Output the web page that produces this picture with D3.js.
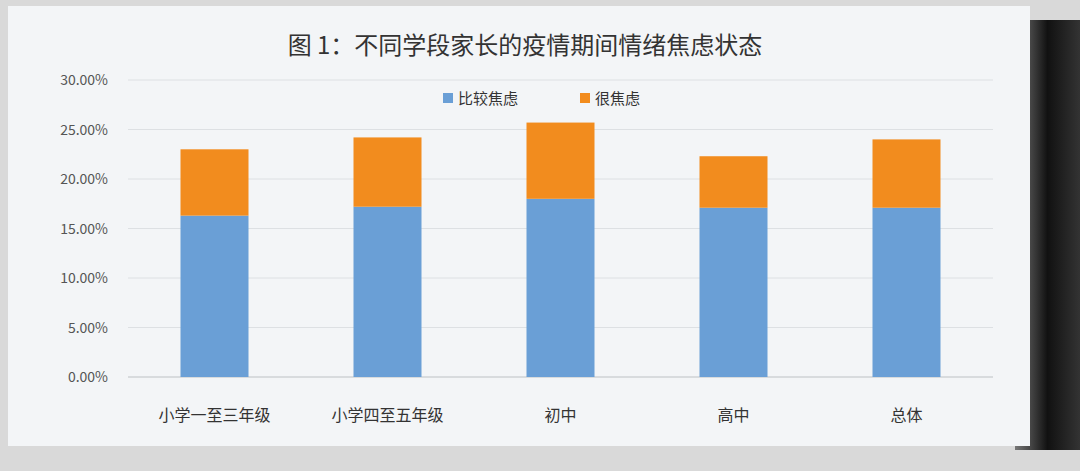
<!DOCTYPE html>
<html><head><meta charset="utf-8">
<script src="https://cdn.jsdelivr.net/npm/d3@7"></script>
<style>body{margin:0;background:#d9d9d9;font-family:"Noto Sans CJK SC","Noto Sans",sans-serif;}</style>
</head><body>
<svg id="chart" width="1080" height="471"></svg>
<script>
const categories = ["小学一至三年级", "小学四至五年级", "初中", "高中", "总体"];
const seriesNames = ["比较焦虑", "很焦虑"];
const fairly = [16.3, 17.2, 18.0, 17.1, 17.1];
const very = [6.7, 7.0, 7.7, 5.2, 6.9];
const yTicks = [0, 5, 10, 15, 20, 25, 30];
const colors = ["#6a9fd6", "#f28c1e"];

const svg = d3.select("#chart");
const defs = svg.append("defs");
const g = defs.append("linearGradient").attr("id", "shadow");
g.append("stop").attr("offset", "0").attr("stop-color", "#777");
g.append("stop").attr("offset", "0.5").attr("stop-color", "#111");
g.append("stop").attr("offset", "1").attr("stop-color", "#333");
svg.append("rect").attr("x", 1015).attr("y", 20).attr("width", 65).attr("height", 430).attr("fill", "url(#shadow)");
svg.append("rect").attr("x", 8).attr("y", 6).attr("width", 1022).attr("height", 440).attr("fill", "#f3f5f7");

const x = d3.scalePoint().domain(categories).range([128, 993]).padding(0.5);
const barW = 68;
const y = d3.scaleLinear().domain([0, 30]).range([377, 80]);

svg.append("g").selectAll("line").data(yTicks).join("line")
  .attr("x1", 128).attr("x2", 993).attr("y1", d => y(d)).attr("y2", d => y(d))
  .attr("stroke", "#dde0e3").attr("stroke-width", 1);
svg.append("line").attr("x1", 128).attr("x2", 993).attr("y1", y(0)).attr("y2", y(0)).attr("stroke", "#c8cbce");

svg.append("g").selectAll("text").data(yTicks).join("text")
  .attr("x", 108).attr("y", d => y(d) + 5).attr("text-anchor", "end")
  .attr("font-size", 14).attr("fill", "#555").text(d => d.toFixed(2) + "%");

const stacked = categories.map((c, i) => ({c, v: [fairly[i], very[i]]}));
stacked.forEach(d => {
  let base = 0;
  d.v.forEach((v, k) => {
    svg.append("rect").attr("x", x(d.c) - barW / 2).attr("width", barW)
      .attr("y", y(base + v)).attr("height", y(base) - y(base + v)).attr("fill", colors[k]);
    base += v;
  });
});

svg.append("g").selectAll("text").data(categories).join("text")
  .attr("x", d => x(d)).attr("y", 421).attr("text-anchor", "middle")
  .attr("font-size", 16).attr("fill", "#333").text(d => d);

svg.append("text").attr("x", 525).attr("y", 54).attr("text-anchor", "middle")
  .attr("font-size", 24).attr("fill", "#333").text("图 1：不同学段家长的疫情期间情绪焦虑状态");

const legendX = [443, 580];
seriesNames.forEach((s, k) => {
  svg.append("rect").attr("x", legendX[k]).attr("y", 93).attr("width", 10).attr("height", 10).attr("fill", colors[k]);
  svg.append("text").attr("x", legendX[k] + 15).attr("y", 104).attr("font-size", 15).attr("fill", "#333").text(s);
});
</script>
</body></html>
